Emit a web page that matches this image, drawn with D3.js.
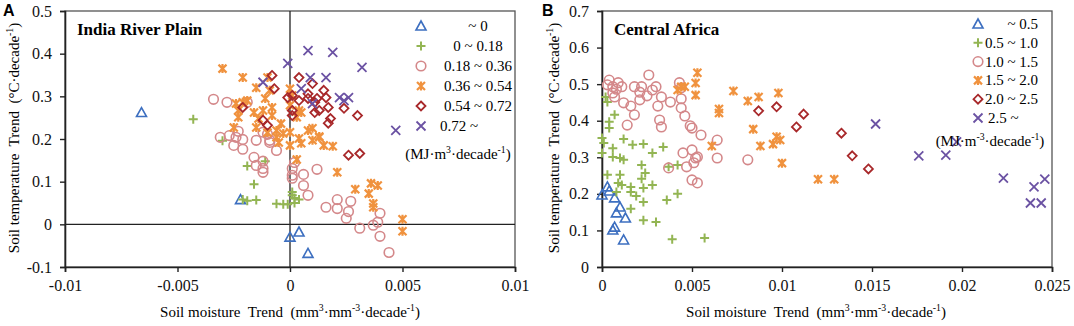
<!DOCTYPE html>
<html>
<head>
<meta charset="utf-8">
<script src="https://cdn.jsdelivr.net/npm/d3@7"></script>
<style>
  body { margin: 0; background: #fff; }
  svg text { font-family: "Liberation Serif", "Times New Roman", serif; white-space: pre; }
</style>
</head>
<body>
<div id="chart"></div>
<script>
// ---- India River Plain (panel A) ----
var indiaTri = [[-0.0066,0.262],[-0.0022,0.058],[0,-0.03],[0.0004,-0.018],[0.0008,-0.068]];
var indiaPlus = [[-0.0043,0.246],[-0.003,0.196],[-0.0019,0.137],[-0.0011,0.148],[-0.0016,0.094],[-0.0021,0.058],
	[-0.0019,0.055],[-0.0015,0.057],[-0.0006,0.048],[-0.0003,0.047],[-0.0001,0.047],[0.0001,0.076],[0.0002,0.062],
	[0.0004,0.058],[0.0002,0.05],[0.0001,0.068]];
var indiaCircle = [[-0.0034,0.293],[-0.0028,0.286],[-0.0019,0.286],[-0.0031,0.204],[-0.0027,0.208],[-0.0023,0.218],
	[-0.0024,0.204],[-0.0021,0.199],[-0.0021,0.176],[-0.0015,0.197],[-0.0009,0.197],[-0.0012,0.216],[-0.0006,0.173],
	[-0.0016,0.157],[-0.0012,0.148],[-0.0012,0.131],[-0.0025,0.185],[-0.0015,0.138],[-0.0012,0.122],[-0.001,0.211],
	[-0.0009,0.192],[0.0001,0.131],[0.0001,0.115],[0.0001,0.108],[0.0002,0.145],[0.0006,0.117],[0.0012,0.129],
	[0.0006,0.091],[0.0008,0.068],[0.0016,0.04],[0.0021,0.058],[0.0021,0.037],[0.0027,0.054],[0.0026,0.03],
	[0.0025,0.014],[0.0031,-0.009],[0.0037,-0.002],[0.0039,0.005],[0.004,0.026],[0.004,-0.028],[0.0044,-0.066]];
var indiaStar = [[-0.003,0.365],[-0.0021,0.344],[-0.0015,0.32],[-0.001,0.344],[-0.0009,0.314],[-0.0025,0.227],
	[-0.0024,0.283],[-0.0019,0.29],[-0.0016,0.262],[-0.0014,0.248],[-0.0012,0.267],[-0.0015,0.227],[-0.0008,0.274],
	[-0.0008,0.255],[-0.001,0.215],[-0.0006,0.22],[-0.0004,0.236],[-0.0006,0.204],[-0.0005,0.192],[0,0.318],
	[0,0.216],[0,0.185],[0.0003,0.152],[-0.0011,0.295],[-0.0021,0.286],[-0.0023,0.267],[-0.0023,0.251],
	[0.0001,0.302],[0,0.279],[-0.0003,0.213],[0.0004,0.267],[0.0005,0.262],[0.0003,0.251],[0.0008,0.22],
	[0.001,0.225],[0.0013,0.204],[0.0004,0.201],[0.0005,0.19],[0.001,0.197],[0.0013,0.206],[0.0015,0.185],
	[0.0019,0.183],[0.0021,0.122],[0.0029,0.082],[0.0035,0.072],[0.0036,0.096],[0.0039,0.091],[0.0037,0.049],
	[0.0037,0.04],[0.005,0.012],[0.005,-0.016]];
var indiaDiamond = [[-0.0008,0.349],[-0.0007,0.318],[-0.0021,0.274],[-0.0012,0.244],[-0.001,0.232],[0.0004,0.344],
	[0.001,0.33],[-0.0001,0.297],[0.0001,0.302],[0.0004,0.29],[0.0008,0.306],[0.0015,0.314],[0.0012,0.295],
	[0.0011,0.286],[0.0016,0.297],[0.0001,0.267],[0.0001,0.255],[0.0011,0.262],[0.0013,0.267],[0.0017,0.274],
	[0.0024,0.272],[0.003,0.255],[0.0018,0.248],[0.0017,0.237],[0.0008,0.295],[0.0026,0.162],[0.0031,0.166]];
var indiaCross = [[-0.0001,0.377],[-0.0012,0.333],[0.0008,0.407],[0.0019,0.403],[0.0032,0.368],[0.0009,0.344],
	[0.0016,0.344],[0.0005,0.318],[0.001,0.283],[0.0022,0.297],[0.0026,0.297],[0.0024,0.29],[0.0047,0.22]];
var indiaLegend = ["~ 0", "0 ~ 0.18", "0.18 ~ 0.36", "0.36 ~ 0.54", "0.54 ~ 0.72", "0.72 ~"];

// ---- Central Africa (panel B) ----
var africaTri = [[0,0.197],[0.0003,0.219],[0.0004,0.208],[0.0007,0.189],[0.001,0.164],[0.0008,0.148],
	[0.0013,0.134],[0.0007,0.109],[0.0006,0.101],[0.0012,0.074]];
var africaPlus = [[0.0002,0.465],[0.0003,0.451],[0.0007,0.416],[0.0004,0.397],[0.0004,0.38],[0,0.353],[0.0001,0.339],
	[0,0.312],[0.0006,0.325],[0.0012,0.35],[0.0017,0.334],[0.0023,0.336],[0.0028,0.312],[0.0034,0.328],[0.0006,0.301],
	[0.001,0.298],[0.0012,0.293],[0.0022,0.279],[0.0042,0.279],[0.0037,0.274],[0.0003,0.252],[0.001,0.252],
	[0.0009,0.23],[0.0011,0.224],[0.0016,0.219],[0.0016,0.205],[0.0019,0.194],[0.0016,0.159],[0.0023,0.178],
	[0.0023,0.216],[0.0028,0.224],[0.0024,0.257],[0.0022,0.241],[0.0023,0.128],[0.003,0.123],[0.0036,0.183],
	[0.0042,0.2],[0.0039,0.076],[0.0057,0.079],[0.0008,0.205]];
var africaCircle = [[0.0004,0.511],[0.0003,0.498],[0.0006,0.493],[0.0009,0.504],[0.0011,0.493],[0.0008,0.486],
	[0.0006,0.476],[0.0007,0.465],[0.0012,0.449],[0.0016,0.44],[0.0018,0.416],[0.0014,0.388],[0.0018,0.493],
	[0.0021,0.478],[0.0022,0.493],[0.0021,0.457],[0.0026,0.525],[0.0025,0.468],[0.0028,0.484],[0.003,0.493],
	[0.0033,0.465],[0.0031,0.44],[0.0038,0.451],[0.0043,0.504],[0.0044,0.49],[0.0044,0.46],[0.0032,0.402],
	[0.0033,0.383],[0.0044,0.435],[0.0046,0.413],[0.0049,0.386],[0.005,0.38],[0.0055,0.361],[0.005,0.32],
	[0.0045,0.312],[0.0052,0.298],[0.0053,0.301],[0.0064,0.347],[0.0064,0.298],[0.0081,0.293],[0.0037,0.271],
	[0.0047,0.274],[0.0051,0.285],[0.005,0.238],[0.0053,0.23]];
var africaStar = [[0.0042,0.484],[0.0044,0.493],[0.0046,0.493],[0.0053,0.531],[0.0052,0.503],[0.0052,0.47],
	[0.0065,0.432],[0.0065,0.421],[0.0061,0.331],[0.0073,0.481],[0.0081,0.454],[0.0087,0.465],[0.0098,0.476],
	[0.0084,0.377],[0.0088,0.331],[0.0095,0.336],[0.0097,0.356],[0.0099,0.347],[0.01,0.284],[0.012,0.24],[0.0129,0.24]];
var africaDiamond = [[0.0087,0.427],[0.0097,0.438],[0.0108,0.383],[0.0112,0.418],[0.0133,0.366],[0.0139,0.304],[0.0148,0.268]];
var africaCross = [[0.0152,0.391],[0.0176,0.304],[0.0191,0.306],[0.0197,0.342],[0.0223,0.243],[0.024,0.219],
	[0.0246,0.24],[0.0238,0.175],[0.0244,0.175]];
var africaLegend = ["~ 0.5", "0.5 ~ 1.0", "1.0 ~ 1.5", "1.5 ~ 2.0", "2.0 ~ 2.5", "2.5 ~"];

var markerStyles = [
	{ shape: 'triangle', color: '#3d6fc0' },
	{ shape: 'plus', color: '#93b553' },
	{ shape: 'circle', color: '#d4888a' },
	{ shape: 'star', color: '#f0923e' },
	{ shape: 'diamond', color: '#a8282a' },
	{ shape: 'cross', color: '#6b52a3' }
];

var svg = d3.select('#chart')
	.append('svg')
	.attr('width', 1074)
	.attr('height', 326);

function drawMarker(g, shape, color) {
	if (shape == 'triangle') {
		g.append('path').attr('d', 'M0,-5L5,4L-5,4Z')
			.attr('fill', 'none').attr('stroke', color).attr('stroke-width', 1.6);
	} else if (shape == 'plus') {
		g.append('path').attr('d', 'M-4.5,0H4.5M0,-4.5V4.5')
			.attr('stroke', color).attr('stroke-width', 2);
	} else if (shape == 'circle') {
		g.append('circle').attr('r', 4.8)
			.attr('fill', 'none').attr('stroke', color).attr('stroke-width', 1.6);
	} else if (shape == 'star') {
		g.append('path').attr('d', 'M-4,-4L4,4M-4,4L4,-4M0,-4.5V4.5')
			.attr('stroke', color).attr('stroke-width', 2.2);
	} else if (shape == 'diamond') {
		g.append('path').attr('d', 'M0,-4.5L4.5,0L0,4.5L-4.5,0Z')
			.attr('fill', 'none').attr('stroke', color).attr('stroke-width', 1.8);
	} else {
		g.append('path').attr('d', 'M-4.5,-4.5L4.5,4.5M-4.5,4.5L4.5,-4.5')
			.attr('stroke', color).attr('stroke-width', 1.8);
	}
}

// text with superscript pieces: parts = [[text, isSup], ...]
function richText(sel, parts) {
	parts.forEach(function (p, i) {
		var prevSup = i > 0 && parts[i - 1][1];
		var t = sel.append('tspan').text(p[0]);
		if (p[1]) t.attr('font-size', '0.65em').attr('dy', prevSup ? 0 : -6);
		else if (prevSup) t.attr('dy', 6);
	});
}

function tickFmt(d) {
	return String(+d.toFixed(4));
}

function drawPanel(opt) {
	let x = d3.scaleLinear().domain(opt.xDomain).range([opt.left, opt.right]);
	let y = d3.scaleLinear().domain(opt.yDomain).range([267, 11]);

	let g = svg.append('g');

	// plot frame
	g.append('rect')
		.attr('x', opt.left).attr('y', 11)
		.attr('width', opt.right - opt.left).attr('height', 256)
		.attr('fill', 'none').attr('stroke', '#555').attr('stroke-width', 1.3);

	if (opt.zeroLines) {
		g.append('line')
			.attr('x1', x(0)).attr('x2', x(0)).attr('y1', 11).attr('y2', 267)
			.attr('stroke', '#222').attr('stroke-width', 1.3);
		g.append('line')
			.attr('x1', opt.left).attr('x2', opt.right).attr('y1', y(0)).attr('y2', y(0))
			.attr('stroke', '#222').attr('stroke-width', 1.3);
	}

	let xAxis = g.append('g')
		.attr('transform', 'translate(0,267)')
		.call(d3.axisBottom(x).tickValues(opt.xTicks).tickFormat(tickFmt).tickSize(5).tickPadding(8));
	let yAxis = g.append('g')
		.attr('transform', 'translate(' + opt.left + ',0)')
		.call(d3.axisLeft(y).tickValues(opt.yTicks).tickFormat(tickFmt).tickSize(5).tickPadding(8));
	[xAxis, yAxis].forEach(function (a) {
		a.select('.domain').attr('stroke', '#222').attr('stroke-width', 1.6);
		a.selectAll('.tick line').attr('stroke', '#222').attr('stroke-width', 1.4);
		a.selectAll('text')
			.attr('font-family', '"Liberation Serif", serif')
			.attr('font-size', 16).attr('fill', '#111');
	});

	// points
	opt.series.forEach(function (s, i) {
		let st = markerStyles[i];
		g.append('g').selectAll('g')
			.data(s)
			.enter()
			.append('g')
			.attr('transform', function (d) {
				return 'translate(' + x(d[0]) + ',' + y(d[1]) + ')';
			})
			.each(function () {
				drawMarker(d3.select(this), st.shape, st.color);
			});
	});

	// title
	g.append('text')
		.attr('x', opt.left + 12).attr('y', 35)
		.attr('font-size', 17).attr('font-weight', 'bold')
		.text(opt.title);

	// panel letter
	g.append('text')
		.attr('x', opt.letterX).attr('y', 16)
		.style('font-family', '"Liberation Sans", Arial, sans-serif')
		.attr('font-size', 16).attr('font-weight', 'bold')
		.text(opt.letter);

	// legend
	let leg = g.append('g');
	opt.legend.forEach(function (lab, i) {
		let ly = opt.legY + i * opt.legStep;
		let m = leg.append('g').attr('transform', 'translate(' + opt.legSymX + ',' + ly + ')');
		drawMarker(m, markerStyles[i].shape, markerStyles[i].color);
		let last = i == opt.legend.length - 1;
		leg.append('text')
			.attr('x', last ? opt.legLastX : opt.legTextX)
			.attr('y', ly + 5)
			.attr('text-anchor', last ? 'start' : opt.legAnchor)
			.attr('font-size', 15)
			.text(lab);
	});
	let unit = leg.append('text')
		.attr('x', opt.unitX).attr('y', opt.unitY)
		.attr('text-anchor', 'middle').attr('font-size', 15);
	richText(unit, opt.unitParts);

	// axis titles
	let yl = g.append('text')
		.attr('transform', 'translate(' + opt.yLabelX + ',138) rotate(-90)')
		.attr('text-anchor', 'middle').attr('font-size', 15);
	richText(yl, [['Soil temperature  Trend  (\u00B0C\u00B7decade', false], ['-1', true], [')', false]]);

	let xl = g.append('text')
		.attr('x', opt.xLabelX).attr('y', 317)
		.attr('text-anchor', 'middle').attr('font-size', 15);
	richText(xl, [['Soil moisture  Trend  (mm', false], ['3', true], ['\u00B7mm', false], ['-3', true],
		['\u00B7decade', false], ['-1', true], [')', false]]);
}

drawPanel({
	left: 65, right: 515,
	xDomain: [-0.01, 0.01], yDomain: [-0.1, 0.5],
	xTicks: [-0.01, -0.005, 0, 0.005, 0.01],
	yTicks: [-0.1, 0, 0.1, 0.2, 0.3, 0.4, 0.5],
	zeroLines: true,
	series: [indiaTri, indiaPlus, indiaCircle, indiaStar, indiaDiamond, indiaCross],
	title: 'India River Plain', letter: 'A', letterX: 3,
	legend: indiaLegend, legSymX: 421, legY: 26, legStep: 20,
	legTextX: 478, legAnchor: 'middle', legLastX: 440,
	unitX: 458, unitY: 159,
	unitParts: [['(MJ\u00B7m', false], ['3', true], ['\u00B7decade', false], ['-1', true], [')', false]],
	yLabelX: 19, xLabelX: 290
});

drawPanel({
	left: 602, right: 1052,
	xDomain: [0, 0.025], yDomain: [0, 0.7],
	xTicks: [0, 0.005, 0.01, 0.015, 0.02, 0.025],
	yTicks: [0, 0.1, 0.2, 0.3, 0.4, 0.5, 0.6, 0.7],
	zeroLines: false,
	series: [africaTri, africaPlus, africaCircle, africaStar, africaDiamond, africaCross],
	title: 'Central Africa', letter: 'B', letterX: 542,
	legend: africaLegend, legSymX: 978, legY: 24, legStep: 18.8,
	legTextX: 1038, legAnchor: 'end', legLastX: 988,
	unitX: 990, unitY: 146,
	unitParts: [['(MJ\u00B7m', false], ['-3', true], ['\u00B7decade', false], ['-1', true], [')', false]],
	yLabelX: 559, xLabelX: 816
});
</script>
</body>
</html>
